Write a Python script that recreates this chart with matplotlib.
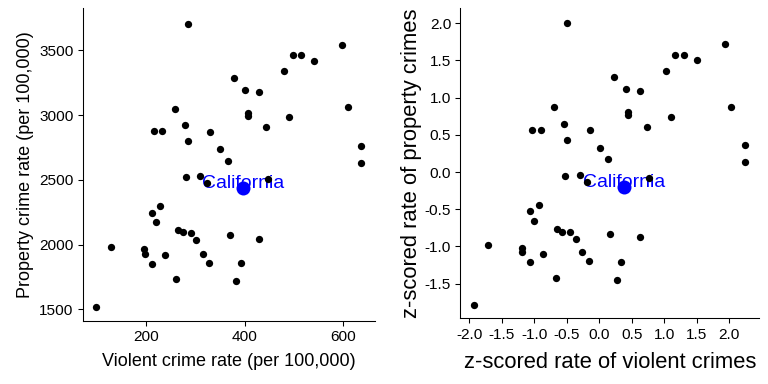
import matplotlib
matplotlib.use("Agg")
import matplotlib.pyplot as plt

plt.rcParams['font.family'] = ['Liberation Sans', 'DejaVu Sans']

# raw rates per 100,000 (all states except California)
violent = [285, 598, 498, 515, 541, 480, 378, 400, 428, 259, 609, 407, 407, 490,
           279, 216, 233, 330, 443, 285, 349, 636, 366, 636, 281, 309, 324, 447,
           229, 212, 220, 264, 274, 291, 302, 370, 428, 128, 196, 197, 238, 315,
           212, 327, 392, 261, 382, 99]
property_ = [3706, 3544, 3461, 3461, 3415, 3338, 3282, 3197, 3176, 3050, 3060, 3019,
             2991, 2981, 2922, 2878, 2878, 2870, 2906, 2798, 2734, 2760, 2646, 2626,
             2523, 2528, 2477, 2505, 2294, 2245, 2171, 2109, 2094, 2086, 2032, 2073,
             2042, 1983, 1963, 1927, 1917, 1929, 1852, 1859, 1855, 1731, 1716, 1520]

# z-scored rates
z_violent = [-0.49, 1.94, 1.17, 1.30, 1.50, 1.03, 0.23, 0.41, 0.62, -0.69, 2.03, 0.45,
             0.45, 1.10, -0.54, -1.03, -0.89, -0.14, 0.74, -0.49, 0.01, 2.24, 0.14, 2.24,
             -0.52, -0.30, -0.19, 0.76, -0.92, -1.06, -1.00, -0.65, -0.57, -0.45, -0.36,
             0.17, 0.62, -1.71, -1.18, -1.18, -0.86, -0.26, -1.06, -0.16, 0.33, -0.67,
             0.27, -1.93]
z_property = [2.00, 1.72, 1.57, 1.57, 1.50, 1.36, 1.27, 1.12, 1.09, 0.87, 0.88, 0.81,
              0.76, 0.74, 0.64, 0.57, 0.57, 0.56, 0.61, 0.43, 0.32, 0.36, 0.17, 0.13,
              -0.05, -0.04, -0.13, -0.08, -0.44, -0.53, -0.66, -0.77, -0.80, -0.80,
              -0.90, -0.83, -0.88, -0.98, -1.02, -1.08, -1.10, -1.08, -1.21, -1.19,
              -1.21, -1.42, -1.45, -1.79]

ca_label = "California"
ca_raw = (397, 2438)
ca_z = (0.38, -0.20)

left_xticks = [200, 400, 600]
left_yticks = [1500, 2000, 2500, 3000, 3500]
right_xticks = [-2.0, -1.5, -1.0, -0.5, 0.0, 0.5, 1.0, 1.5, 2.0]
right_yticks = [-1.5, -1.0, -0.5, 0.0, 0.5, 1.0, 1.5, 2.0]


def style(ax, label_size):
    for s in ["top", "right"]:
        ax.spines[s].set_visible(False)
    for s in ["left", "bottom"]:
        ax.spines[s].set_linewidth(0.8)
    ax.tick_params(length=4, width=0.8, pad=3, labelsize=11.5, colors="black")
    ax.xaxis.label.set_size(label_size)
    ax.yaxis.label.set_size(label_size)


def panel(ax, x, y, ca, xlabel, ylabel, label_size, xpad, ypad):
    ax.scatter(x, y, s=30, color="black", linewidths=0, zorder=2)
    ax.scatter([ca[0]], [ca[1]], s=110, color="#0000FF", linewidths=0, zorder=3)
    ax.text(ca[0], ca[1], ca_label, color="#0000FF", fontsize=14.5,
            ha="center", va="baseline", zorder=1)
    ax.set_xlabel(xlabel, labelpad=xpad)
    ax.set_ylabel(ylabel, labelpad=ypad)
    style(ax, label_size)


fig = plt.figure(figsize=(8, 4), dpi=96)

ax1 = fig.add_axes([0.1081, 0.1648, 0.3802, 0.8136])
panel(ax1, violent, property_, ca_raw, "Violent crime rate (per 100,000)",
      "Property crime rate (per 100,000)", 13.5, 7, 4)
ax1.set_xlim(72.3, 664)
ax1.set_ylim(1412, 3824)
ax1.set_xticks(left_xticks)
ax1.set_yticks(left_yticks)

ax2 = fig.add_axes([0.5996, 0.1711, 0.3887, 0.8073])
panel(ax2, z_violent, z_property, ca_z, "z-scored rate of violent crimes",
      "z-scored rate of property crimes", 16.5, 8, 2)
ax2.set_xlim(-2.132, 2.457)
ax2.set_ylim(-1.966, 2.200)
ax2.set_xticks(right_xticks)
ax2.set_xticklabels(["%.1f" % v for v in right_xticks])
ax2.set_yticks(right_yticks)
ax2.set_yticklabels(["%.1f" % v for v in right_yticks])

fig.savefig("out.png", dpi=96)
